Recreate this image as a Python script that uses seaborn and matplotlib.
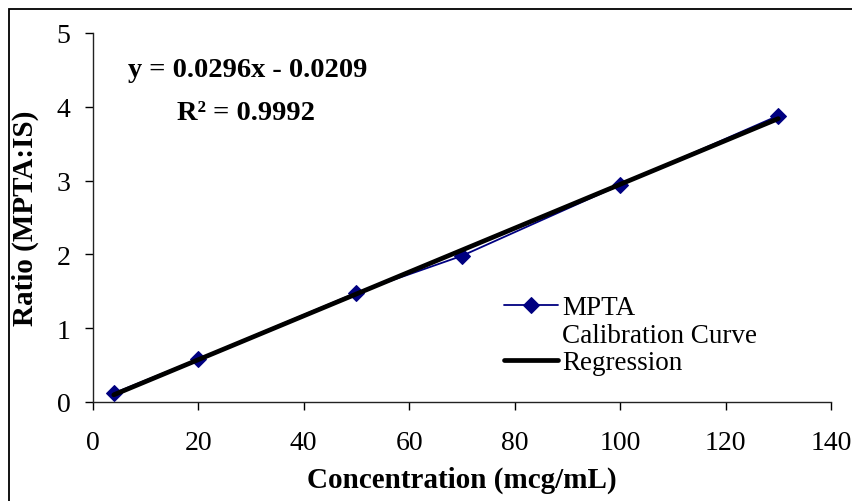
import numpy as np
import matplotlib
matplotlib.use('Agg')
import matplotlib.pyplot as plt
import seaborn as sns
from matplotlib.lines import Line2D
from matplotlib.patches import Rectangle

# calibration data
concentration = [4, 20, 50, 70, 100, 130]
ratio = [0.12, 0.58, 1.48, 1.98, 2.94, 3.88]
equation_text = 'y = 0.0296x - 0.0209'
r2_text = 'R\u00b2 = 0.9992'
x_ticks = [0, 20, 40, 60, 80, 100, 120, 140]
y_ticks = [0, 1, 2, 3, 4, 5]

sns.set_theme(style='white')
plt.rcParams['font.family'] = ['Liberation Serif', 'DejaVu Serif']
plt.rcParams['text.color'] = 'black'
plt.rcParams['axes.labelcolor'] = 'black'

fig = plt.figure(figsize=(8.53, 5.02), dpi=100)
ax = fig.add_axes([92.7 / 853, 1 - 403 / 502, (831 - 92.7) / 853, (403 - 34) / 502])

# outer chart border (only left/top fall inside the picture)
W, H = 853, 502
fig.patches.append(Rectangle((9 / W, -0.1), 1.2, 1 - 10 / H + 0.1, transform=fig.transFigure,
                             fill=False, edgecolor='black', lw=1.3, zorder=0))

sns.lineplot(x=concentration, y=ratio, color='#000080', lw=1.3, marker='D', markersize=8.5,
             markeredgecolor='#000080', ax=ax, label='MPTA', zorder=3)
sns.regplot(x=np.array(concentration), y=np.array(ratio), ci=None, scatter=False, truncate=True,
            line_kws=dict(color='black', lw=3.4, zorder=4), ax=ax, label='Regression')

ax.set_xlim(0, 140)
ax.set_ylim(0, 5)
ax.set_xticks(x_ticks)
ax.set_yticks(y_ticks)
ax.tick_params(axis='both', direction='out', length=6, width=1, color='black',
               labelsize=20, labelcolor='black', bottom=True, left=True)
ax.tick_params(axis='x', pad=14)
ax.tick_params(axis='y', pad=10)
for side in ['top', 'right']:
    ax.spines[side].set_visible(False)
for side in ['left', 'bottom']:
    ax.spines[side].set_color('#222222')
    ax.spines[side].set_linewidth(1)

ax.set_xlabel('Concentration (mcg/mL)', fontsize=21, fontweight='bold', labelpad=8)
ax.set_ylabel('Ratio (MPTA:IS)', fontsize=21, fontweight='bold', labelpad=13)

ax.text(6.7, 4.5, equation_text, fontsize=20.5, fontweight='bold', ha='left', va='center')
ax.text(16.0, 3.92, r2_text, fontsize=20.5, fontweight='bold', ha='left', va='center')

handles, labels = ax.get_legend_handles_labels()
blank = Line2D([], [], color='none')
leg = ax.legend([handles[0], blank, handles[1]], ['MPTA', 'Calibration Curve', 'Regression'],
                loc='upper left', bbox_to_anchor=((504 - 92.7) / (831 - 92.7), (403 - 296) / (403 - 34)),
                frameon=False, fontsize=19.5, handlelength=2.0, handletextpad=0.15,
                labelspacing=0.1, borderaxespad=0, borderpad=0)

fig.savefig('out.png', dpi=100)
